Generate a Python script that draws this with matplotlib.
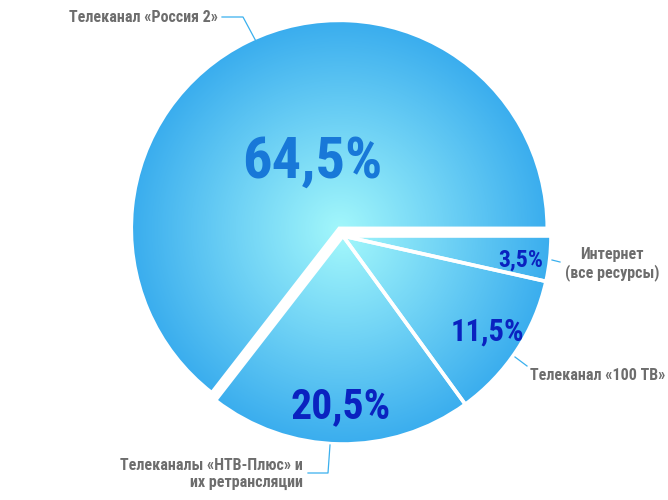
import os
import numpy as np
import matplotlib
matplotlib.use("Agg")
import matplotlib.pyplot as plt
from matplotlib import font_manager
from matplotlib.colors import LinearSegmentedColormap

# data, clockwise from 3 o'clock
shares = [3.5, 11.5, 20.5, 64.5]
pct_labels = ["3,5%", "11,5%", "20,5%", "64,5%"]
names = ["Интернет\n(все ресурсы)", "Телеканал «100 ТВ»",
         "Телеканалы «НТВ-Плюс» и\nих ретрансляции", "Телеканал «Россия 2»"]

W, H = 668, 500
GRAY = "#6d6d6d"
LINE = "#3ab0ee"


def narrow_font():
    # bold condensed face if one is installed (Roboto Condensed preferred)
    best = None
    for f in font_manager.fontManager.ttflist:
        base = os.path.basename(f.fname).lower()
        if any(k in base for k in ("italic", "extra", "semi", "ultra")):
            continue
        if ("condensed" in base or "narrow" in base) and "bold" in base:
            score = 0 if "roboto" in base else 1
            if best is None or score < best[0]:
                best = (score, f.fname)
    return best[1] if best else None


fpath = narrow_font()


def fp(size):
    if fpath:
        return font_manager.FontProperties(fname=fpath, size=size)
    return font_manager.FontProperties(family=["Roboto", "DejaVu Sans"], weight="bold", size=size)


fig = plt.figure(figsize=(W / 100, H / 100), dpi=100)
ax = fig.add_axes([0, 0, 1, 1])

# pixel-like units, y flipped
cx, cy, R = 343, H - 236, 208
wedges, _ = ax.pie(shares, center=(cx, cy), radius=R, startangle=0, counterclock=False,
                   explode=[0, 0, 0, 8.5], frame=True,
                   wedgeprops=dict(linewidth=2.6, edgecolor="white", facecolor="none"))
ax.set_xlim(0, W)
ax.set_ylim(0, H)
ax.set_aspect("equal")
ax.axis("off")

# radial gradient, clipped to each wedge
cmap = LinearSegmentedColormap.from_list("pie", ["#a2f7fb", "#6fd2f5", "#3aadee"])
yy, xx = np.mgrid[H:0:-1, 0:W]
for w in wedges:
    wx, wy = w.center
    d = np.hypot(xx - wx, yy - wy) / R
    im = ax.imshow(np.clip(d, 0, 1), cmap=cmap, extent=(0, W, 0, H), origin="upper",
                   vmin=0, vmax=1, zorder=1, interpolation="bilinear")
    im.set_clip_path(w)
    w.set_zorder(2)

# percentages
pct_pos = [(521, 260, 17, "#0a22c0"), (487, 332, 22, "#0a22c0"),
           (341, 407, 30, "#0a22c0"), (312, 162, 42, "#1878d8")]
for txt, (x, y, fs, col) in zip(pct_labels, pct_pos):
    ax.text(x, H - y, txt, ha="center", va="center", color=col,
            fontproperties=fp(fs), zorder=5)

# category labels + leader lines
kw = dict(color=GRAY, fontproperties=fp(11.5))
ax.text(218, H - 17, names[3], ha="right", va="center", **kw)
ax.plot([222, 243, 258], [H - 17, H - 17, H - 45], color=LINE, lw=0.9, zorder=3)

ax.text(612, H - 264, names[0], ha="center", va="center", linespacing=1.1, **kw)
ax.plot([552, 560], [H - 260, H - 262], color=LINE, lw=0.9, zorder=3)

ax.text(530, H - 376, names[1], ha="left", va="center", **kw)
ax.plot([515, 527], [H - 357, H - 366], color=LINE, lw=0.9, zorder=3)

ax.text(303, H - 474, names[2], ha="right", va="center", linespacing=1.1,
        multialignment="right", **kw)
ax.plot([330, 328, 308], [H - 445, H - 473, H - 473], color=LINE, lw=0.9, zorder=3)

fig.savefig("out.png", dpi=100)
